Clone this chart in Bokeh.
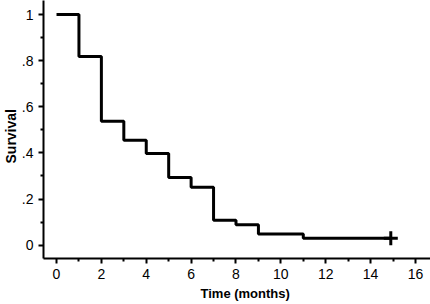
from bokeh.plotting import figure
from bokeh.models import FixedTicker, CustomJSTickFormatter, Range1d, Title
from bokeh.embed import file_html
from bokeh.resources import INLINE

# Kaplan-Meier step data
times = [0, 1, 2, 3, 4, 5, 6, 7, 8, 9, 11, 14.9]
survival = [1.0, 0.818, 0.537, 0.455, 0.397, 0.293, 0.251, 0.108, 0.089, 0.049, 0.030, 0.030]
censor_t = [14.9]
censor_s = [0.030]

x_ticks = [0, 2, 4, 6, 8, 10, 12, 14, 16]
x_minor = [1, 3, 5, 7, 9, 11, 13, 15]
y_ticks = [0, 0.2, 0.4, 0.6, 0.8, 1.0]
y_minor = [0.1, 0.3, 0.5, 0.7, 0.9]
x_title = "Time (months)"
y_title = "Survival"

p = figure(width=430, height=304, output_backend="svg", toolbar_location=None,
           x_range=Range1d(-0.58, 16.67), y_range=Range1d(-0.0577, 1.0607),
           min_border_left=43, min_border_right=0, min_border_top=0, min_border_bottom=46)
p.outline_line_color = None
p.xgrid.visible = False
p.ygrid.visible = False
p.background_fill_color = "white"
p.border_fill_color = "white"

p.step(times, survival, mode="after", line_color="black", line_width=3)
p.scatter(censor_t, censor_s, marker="cross", size=14, line_color="black", line_width=3)

for ax in (p.xaxis[0], p.yaxis[0]):
    ax.axis_line_width = 2
    ax.axis_line_color = "black"
    ax.major_tick_line_width = 2
    ax.minor_tick_line_width = 2
    ax.major_tick_out = 5
    ax.major_tick_in = 0
    ax.minor_tick_out = 3
    ax.minor_tick_in = 0
    ax.major_label_text_font = "Liberation Sans"
    ax.major_label_text_font_size = "14px"
    ax.major_label_text_color = "black"
    ax.major_label_standoff = 5

p.xaxis.ticker = FixedTicker(ticks=x_ticks, minor_ticks=x_minor)
p.yaxis.ticker = FixedTicker(ticks=y_ticks, minor_ticks=y_minor)
p.yaxis.formatter = CustomJSTickFormatter(code="""
if (tick == 0) return "0";
if (tick == 1) return "1";
return tick.toFixed(1).replace(/^0/, "");
""")

p.add_layout(Title(text=x_title, align="left", offset=157, text_font="Liberation Sans",
                   text_font_style="bold", text_font_size="13px", text_color="black",
                   standoff=4), "below")
p.add_layout(Title(text=y_title, align="left", offset=95, text_font="Liberation Sans",
                   text_font_style="bold", text_font_size="14px", text_color="black",
                   standoff=0), "left")

open("out.html", "w").write(file_html(p, INLINE))
